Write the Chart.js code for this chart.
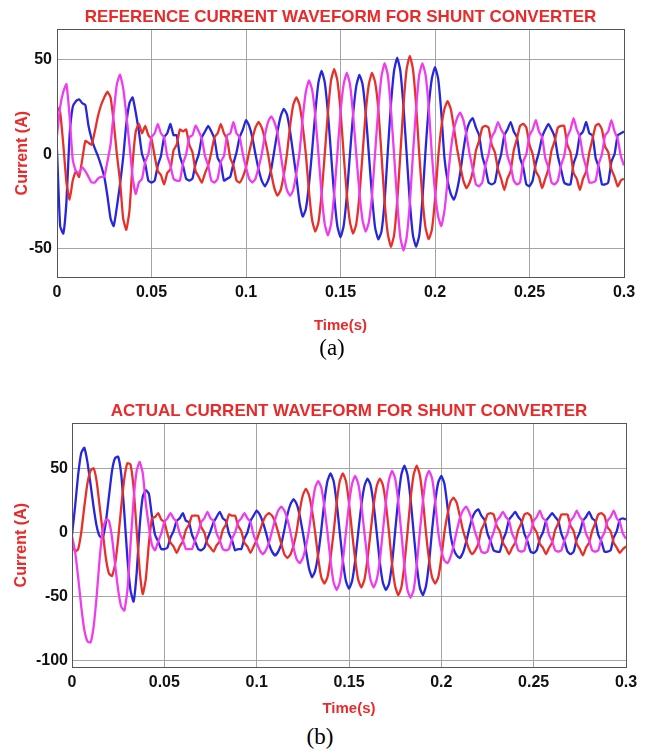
<!DOCTYPE html>
<html lang="en">
<head>
<meta charset="utf-8">
<title>Shunt converter current waveforms</title>
<style>
  body { margin: 0; background: #fff; width: 656px; height: 749px; position: relative; overflow: hidden; }
  .wrap { position: absolute; left: 0; }
  .cap { position: absolute; font-family: "Liberation Serif", "Times New Roman", serif; font-size: 23px; line-height: 26px; color: #000; transform: translateX(-50%); }
</style>
<script src="https://cdn.jsdelivr.net/npm/chart.js@4.4.1/dist/chart.umd.min.js"></script>
</head>
<body>
<div class="wrap" style="top:0"><canvas id="chartA" width="656" height="340"></canvas></div>
<div class="cap" style="left:332px; top:335px">(a)</div>
<div class="wrap" style="top:395px"><canvas id="chartB" width="656" height="325"></canvas></div>
<div class="cap" style="left:320px; top:724px">(b)</div>

<script>
// sample step of the traces (s), 12 samples per 50 Hz cycle
const dt = 1 / 600;

const xTicks = [0, 0.05, 0.1, 0.15, 0.2, 0.25, 0.3];
const xTickLabels = ['0', '0.05', '0.1', '0.15', '0.2', '0.25', '0.3'];
const yTicksA = [-50, 0, 50];
const yTicksB = [-100, -50, 0, 50];

// (a) reference currents
const aRed = [
  25, 22, 5, -15, -24, -14, -9, -12, -3, 7, 6, 5,
  12, 20, 26, 30, 33, 30, 17, 0, -14, -34, -40, -30,
  -5, 12, 16, 11, 15, 10, 8, -1, -9, -11, -16, -10,
  -8, 2, 5, 13, 12, 13, 5, 1, -9, -12, -15, -10,
  -6, 1, 9, 11, 16, 11, 8, -2, -6, -14, -15, -12,
  -7, 1, 8, 14, 17, 14, 8, 0, -10, -18, -22, -19,
  -11, 0, 15, 26, 30, 26, 15, 0, -20, -35, -41, -36,
  -21, 0, 22, 39, 45, 39, 23, 0, -21, -36, -42, -37,
  -22, 0, 22, 37, 43, 38, 24, 0, -25, -42, -49, -43,
  -25, 0, 26, 45, 52, 45, 26, 0, -23, -39, -45, -40,
  -24, -2, 14, 24, 28, 24, 14, 3, -6, -14, -18, -15,
  -9, 2, 7, 14, 15, 14, 5, 1, -8, -13, -19, -13,
  -9, 2, 8, 15, 16, 14, 5, 0, -9, -12, -18, -13,
  -8, 2, 7, 14, 15, 15, 5, 1, -10, -13, -19, -13,
  -9, 1, 8, 15, 16, 13, 4, 1, -8, -12, -17, -14, -13
];
const aBlue = [
  2, -38, -42, -25, 10, 25, 28, 29, 27, 26, 15, 8,
  3, -1, -6, -12, -22, -34, -38, -28, -16, -2, 16, 27,
  30, 22, 12, 0, -5, -14, -15, -14, -6, -1, 9, 11,
  16, 10, 10, -1, -6, -13, -14, -13, -5, 0, 9, 12,
  15, 12, 8, -2, -5, -14, -13, -12, -5, 1, 9, 13,
  18, 15, 9, 0, -8, -14, -17, -14, -8, 2, 12, 20,
  24, 21, 12, 0, -12, -26, -33, -29, -16, 2, 22, 38,
  44, 38, 22, 0, -22, -38, -44, -38, -22, 0, 21, 36,
  42, 37, 22, 0, -22, -39, -45, -41, -25, 1, 26, 44,
  51, 44, 25, 0, -25, -43, -49, -43, -24, 2, 25, 40,
  46, 40, 22, -2, -14, -21, -24, -19, -10, 2, 12, 17,
  19, 14, 10, -1, -7, -15, -16, -15, -6, 0, 10, 13,
  17, 12, 9, -2, -7, -16, -17, -14, -5, 1, 9, 13,
  16, 13, 9, -1, -8, -15, -16, -16, -5, 0, 10, 12,
  17, 11, 10, -2, -7, -16, -16, -15, -4, 0, 10, 11, 12
];
const aMagenta = [
  10, 25, 33, 37, 20, -3, -9, -10, -7, -9, -12, -15,
  -15, -13, -12, -12, -4, 5, 22, 37, 42, 35, 21, 5,
  -12, -21, -15, -13, -4, 0, 9, 11, 16, 11, 9, -1,
  -6, -13, -14, -14, -5, 0, 9, 10, 15, 12, 8, -1,
  -6, -14, -15, -13, -4, -1, 10, 11, 17, 11, 9, 0,
  -7, -13, -15, -13, -7, 0, 10, 17, 20, 17, 11, 0,
  -11, -19, -22, -19, -10, 1, 19, 33, 39, 34, 20, 0,
  -21, -37, -43, -37, -21, 0, 22, 37, 43, 37, 21, 0,
  -20, -35, -41, -36, -22, 1, 24, 41, 48, 42, 24, 0,
  -25, -44, -51, -44, -26, 0, 24, 42, 48, 42, 25, 0,
  -20, -33, -38, -30, -14, 2, 13, 19, 22, 18, 10, 0,
  -8, -16, -17, -15, -6, 0, 9, 12, 17, 13, 10, -1,
  -6, -14, -16, -15, -4, 0, 10, 13, 18, 12, 9, -2,
  -7, -15, -16, -14, -6, -1, 9, 13, 19, 13, 9, -1,
  -7, -15, -15, -14, -5, 0, 10, 12, 18, 12, 8, -1, -6
];

// (b) actual currents
const bRed = [
  -7, -15, -13, 0, 20, 38, 48, 50, 40, 20, 0, -20,
  -32, -34, -25, -5, 20, 42, 54, 53, 35, 2, -30, -48,
  -36, -8, 11, 12, 15, 10, 8, -1, -8, -11, -16, -11,
  -7, 2, 6, 13, 13, 13, 4, 0, -9, -12, -15, -10,
  -7, 2, 6, 14, 13, 13, 5, 1, -8, -11, -16, -11,
  -6, 1, 8, 13, 15, 13, 8, 0, -9, -17, -20, -17,
  -10, 1, 17, 29, 34, 29, 17, 0, -20, -35, -40, -35,
  -20, 0, 23, 40, 46, 40, 23, 0, -21, -37, -43, -37,
  -21, 0, 21, 36, 42, 37, 22, 0, -25, -42, -49, -43,
  -25, 0, 26, 45, 52, 45, 26, 0, -21, -35, -40, -35,
  -20, 0, 14, 24, 27, 23, 13, 2, -6, -13, -17, -14,
  -9, 2, 7, 14, 15, 14, 5, 1, -8, -12, -17, -12,
  -8, 2, 7, 14, 15, 13, 4, 0, -9, -12, -17, -12,
  -8, 2, 7, 14, 14, 14, 5, 1, -9, -13, -18, -12,
  -8, 1, 7, 14, 15, 13, 4, 1, -8, -12, -16, -13, -11
];
const bBlue = [
  -2, 20, 45, 62, 66, 55, 38, 20, 5, -3, -4, 8,
  28, 48, 58, 59, 45, 15, -20, -45, -54, -32, 5, 28,
  33, 30, 12, -2, -7, -13, -13, -12, -4, 1, 9, 11,
  15, 9, 8, -2, -7, -13, -14, -12, -5, 1, 8, 12,
  16, 11, 9, -1, -6, -14, -13, -13, -5, 0, 9, 13,
  17, 14, 8, 0, -9, -15, -18, -15, -9, 2, 14, 22,
  26, 22, 13, 0, -14, -28, -35, -30, -17, 2, 24, 40,
  46, 40, 23, 0, -22, -38, -44, -38, -22, 0, 21, 36,
  42, 37, 22, 0, -23, -39, -45, -40, -24, 1, 26, 45,
  52, 45, 26, 0, -25, -43, -49, -42, -24, 2, 24, 39,
  44, 38, 20, -2, -13, -18, -20, -16, -8, 2, 11, 16,
  18, 13, 10, -1, -7, -14, -15, -15, -6, 0, 10, 13,
  16, 12, 9, -1, -7, -15, -16, -14, -5, 0, 9, 12,
  15, 12, 9, -1, -7, -15, -17, -15, -5, 0, 9, 12,
  16, 11, 9, -2, -7, -15, -15, -14, -4, 1, 10, 11, 10
];
const bMagenta = [
  -3, -15, -35, -58, -76, -85, -86, -74, -50, -20, 2, 10,
  9, -4, -25, -45, -58, -61, -45, -10, 25, 48, 55, 46,
  22, 4, -10, -14, -7, -1, 8, 11, 15, 11, 8, -1,
  -6, -13, -13, -13, -6, 0, 8, 11, 16, 11, 9, -1,
  -6, -13, -14, -13, -5, 0, 8, 11, 15, 11, 8, -2,
  -8, -14, -17, -14, -8, 1, 10, 17, 20, 17, 10, 0,
  -12, -21, -24, -20, -11, 2, 20, 35, 40, 35, 20, 0,
  -22, -39, -45, -39, -22, 0, 22, 38, 44, 38, 22, 0,
  -21, -37, -43, -37, -22, 1, 24, 41, 48, 42, 24, 0,
  -26, -45, -51, -45, -26, 0, 24, 42, 48, 42, 24, 0,
  -14, -22, -24, -19, -10, 1, 11, 17, 20, 16, 9, 0,
  -7, -15, -16, -15, -6, 0, 9, 12, 16, 12, 9, -1,
  -6, -14, -15, -14, -4, 0, 9, 12, 17, 11, 9, -2,
  -7, -14, -15, -14, -6, -1, 9, 12, 17, 12, 9, -1,
  -6, -14, -15, -14, -5, 0, 9, 12, 17, 11, 8, -1, -5
];

const RED = '#e8302a';
const BLUE = '#2626dc';
const MAGENTA = '#ee3cee';
const TEXT_RED = '#ea2a2a';

function toXY(arr) {
    return arr.map((v, i) => ({ x: i * dt, y: v }));
}

// box round the plot area, like the matlab axes
const framePlugin = {
    id: 'frame',
    afterDraw(chart) {
        const a = chart.chartArea;
        const ctx = chart.ctx;
        ctx.save();
        ctx.strokeStyle = '#555';
        ctx.lineWidth = 1;
        ctx.strokeRect(Math.round(a.left) + 0.5, Math.round(a.top) + 0.5,
                       Math.round(a.right - a.left), Math.round(a.bottom - a.top));
        ctx.restore();
    }
};

function makeChart(id, red, blue, magenta, cfg) {
    const line = (data, color) => ({
        data: toXY(data),
        borderColor: color,
        borderWidth: 2.3,
        pointRadius: 0,
        tension: 0.15
    });
    return new Chart(document.getElementById(id), {
        type: 'line',
        data: {
            datasets: [line(magenta, MAGENTA), line(red, RED), line(blue, BLUE)]
        },
        options: {
            responsive: false,
            animation: false,
            layout: { padding: { left: 0, right: cfg.padRight, top: 0, bottom: 0 } },
            plugins: {
                legend: { display: false },
                tooltip: { enabled: false },
                title: {
                    display: true,
                    text: cfg.title,
                    fullSize: false,
                    color: TEXT_RED,
                    font: { family: 'Liberation Sans', size: 17, weight: 'bold' },
                    padding: { top: cfg.titleTop, bottom: cfg.titleBottom }
                }
            },
            scales: {
                x: {
                    type: 'linear',
                    min: 0,
                    max: 0.3,
                    afterBuildTicks: s => { s.ticks = xTicks.map(v => ({ value: v })); },
                    afterFit: s => { s.height = cfg.xHeight; },
                    ticks: {
                        callback: (v, i) => xTickLabels[i],
                        maxRotation: 0,
                        padding: 6,
                        color: '#111',
                        font: { family: 'Liberation Sans', size: 16, weight: 'bold' }
                    },
                    grid: { color: '#a5a5a5', drawTicks: false },
                    border: { display: false },
                    title: {
                        display: true,
                        text: 'Time(s)',
                        color: TEXT_RED,
                        font: { family: 'Liberation Sans', size: 15, weight: 'bold' },
                        padding: { bottom: cfg.xTitlePad }
                    }
                },
                y: {
                    min: cfg.yMin,
                    max: cfg.yMax,
                    afterBuildTicks: s => { s.ticks = cfg.yTicks.map(v => ({ value: v })); },
                    afterFit: s => { s.width = cfg.yWidth; },
                    ticks: {
                        padding: cfg.yTickPad,
                        color: '#111',
                        font: { family: 'Liberation Sans', size: 16, weight: 'bold' }
                    },
                    grid: { color: '#a5a5a5', drawTicks: false },
                    border: { display: false },
                    title: {
                        display: true,
                        text: 'Current (A)',
                        color: TEXT_RED,
                        font: { family: 'Liberation Sans', size: 16, weight: 'bold' },
                        padding: { top: cfg.yTitlePad }
                    }
                }
            }
        },
        plugins: [framePlugin]
    });
}

makeChart('chartA', aRed, aBlue, aMagenta, {
    title: 'REFERENCE CURRENT WAVEFORM FOR SHUNT CONVERTER',
    yMin: -65, yMax: 66, yTicks: yTicksA,
    yWidth: 57, xHeight: 63, padRight: 32,
    titleTop: 7, titleBottom: 2, yTickPad: 5, yTitlePad: 13, xTitlePad: 5
});

makeChart('chartB', bRed, bBlue, bMagenta, {
    title: 'ACTUAL CURRENT WAVEFORM FOR SHUNT CONVERTER',
    yMin: -105, yMax: 85, yTicks: yTicksB,
    yWidth: 72, xHeight: 53, padRight: 30,
    titleTop: 6, titleBottom: 2, yTickPad: 4, yTitlePad: 12, xTitlePad: 2
});
</script>
</body>
</html>
